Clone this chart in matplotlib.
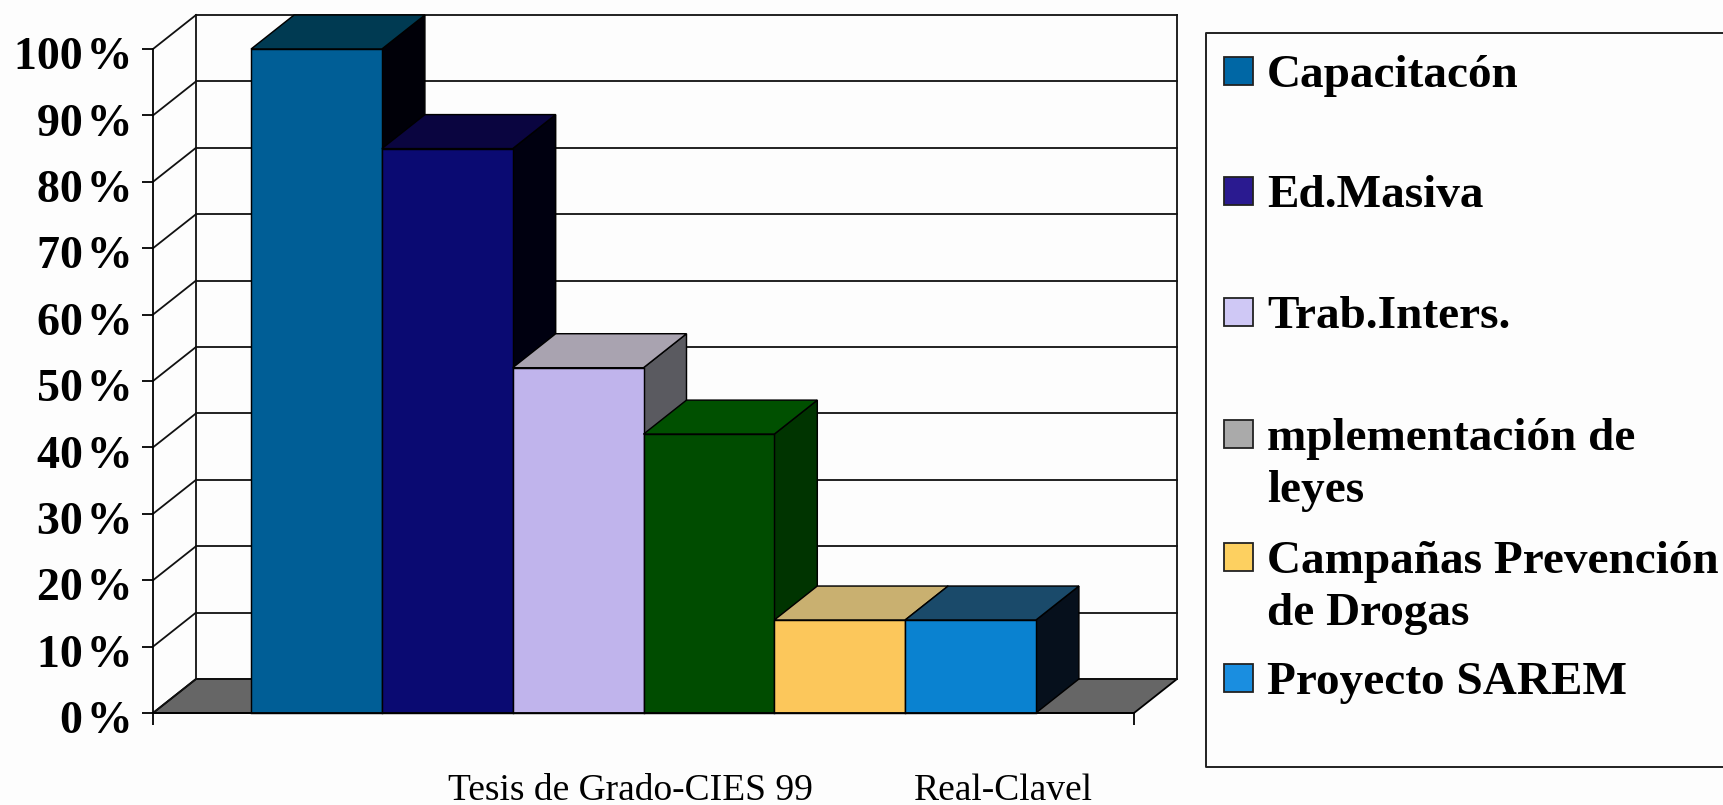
import matplotlib
matplotlib.use('Agg')
import matplotlib.pyplot as plt
from matplotlib.patches import Polygon, Rectangle
from matplotlib.transforms import ScaledTranslation

plt.rcParams['font.family'] = ['Liberation Serif', 'DejaVu Serif']

# Datos
series = ['Capacitacón', 'Ed.Masiva', 'Trab.Inters.', 'Implementación', 'Campañas', 'Proyecto SAREM']
valores = [100, 85, 52, 42, 14, 14]
ticks_y = [0, 10, 20, 30, 40, 50, 60, 70, 80, 90, 100]
etiquetas_y = ['0\u200a%', '10\u200a%', '20\u200a%', '30\u200a%', '40\u200a%', '50\u200a%',
               '60\u200a%', '70\u200a%', '80\u200a%', '90\u200a%', '100\u200a%']

color_frente = ['#005e96', '#0a0a72', '#c0b4ec', '#004c00', '#fcc75b', '#0a82d0']
color_arriba = ['#003a52', '#0a0540', '#a9a3b0', '#005000', '#c9b070', '#1a4a6a']
color_lado = ['#000008', '#000010', '#5a5a60', '#003400', '#101010', '#06101c']
color_leyenda = ['#0067a5', '#2a1a90', '#cfc8f5', '#aaaaaa', '#fdd060', '#1a8ee0']

ANCHO, ALTO = 1724, 805
fig = plt.figure(figsize=(ANCHO / 100, ALTO / 100), dpi=100, facecolor='#fdfdfd')

# plano frontal del grafico, en pixeles
x0, x1, y0, y1 = 153, 1134, 713, 49
ax = fig.add_axes([x0 / ANCHO, 1 - y0 / ALTO, (x1 - x0) / ANCHO, (y0 - y1) / ALTO])
ax.set_xlim(0, 1)
ax.set_ylim(0, 100)
ax.patch.set_alpha(0)

# desplazamiento de profundidad en unidades de datos
dx = 43 / (x1 - x0)
dy = 34 / (y0 - y1) * 100
lw = 1.3

# piso
ax.add_patch(Polygon([(0, 0), (dx, dy), (1 + dx, dy), (1, 0)], closed=True, facecolor='#666666',
                     edgecolor='black', lw=lw, clip_on=False, zorder=1))
# paredes y lineas de la grilla
for t in ticks_y:
    ax.plot([dx, 1 + dx], [t + dy, t + dy], color='#111111', lw=lw, clip_on=False, zorder=1)
    ax.plot([0, dx], [t, t + dy], color='#111111', lw=lw, clip_on=False, zorder=1)
ax.plot([dx, dx], [dy, 100 + dy], color='#111111', lw=lw, clip_on=False, zorder=1)
ax.plot([1 + dx, 1 + dx], [dy, 100 + dy], color='#111111', lw=lw, clip_on=False, zorder=1)

# barras de izquierda a derecha
ancho_barra = 0.8 / len(valores)
for i in range(len(valores)):
    izq = 0.1 + i * ancho_barra
    der = izq + ancho_barra
    v = valores[i]
    z = 3 + i
    ax.add_patch(Polygon([(der, 0), (der + dx, dy), (der + dx, v + dy), (der, v)], closed=True,
                         facecolor=color_lado[i], edgecolor='black', lw=lw * 0.8, clip_on=False, zorder=z))
    ax.add_patch(Polygon([(izq, v), (izq + dx, v + dy), (der + dx, v + dy), (der, v)], closed=True,
                         facecolor=color_arriba[i], edgecolor='black', lw=lw * 0.8, clip_on=False, zorder=z))
    ax.bar(izq, v, width=ancho_barra, align='edge', color=color_frente[i], edgecolor='black',
           lw=lw * 0.8, clip_on=False, zorder=z)

for lado in ['top', 'right']:
    ax.spines[lado].set_visible(False)
ax.spines['left'].set_bounds(0, 100)
for lado in ['left', 'bottom']:
    ax.spines[lado].set_linewidth(lw)
    ax.spines[lado].set_zorder(10)
ax.set_yticks(ticks_y)
ax.set_yticklabels(etiquetas_y, fontsize=33, fontweight='bold')
ax.tick_params(axis='y', length=8, width=lw, pad=7)
# las etiquetas quedan un poco mas abajo que la marca
baja = ScaledTranslation(0, -3 / 72, fig.dpi_scale_trans)
for etiqueta in ax.get_yticklabels():
    etiqueta.set_transform(etiqueta.get_transform() + baja)
ax.set_xticks([0, 1])
ax.set_xticklabels(['', ''])
ax.tick_params(axis='x', length=8.5, width=lw, direction='out')

# capa en pixeles para leyenda y textos sueltos
capa = fig.add_axes([0, 0, 1, 1])
capa.set_xlim(0, ANCHO)
capa.set_ylim(ALTO, 0)
capa.axis('off')
capa.patch.set_alpha(0)

capa.text(448, 800, 'Tesis de Grado-CIES 99', fontsize=27, va='baseline')
capa.text(914, 800, 'Real-Clavel', fontsize=27, va='baseline')

# leyenda
capa.plot([ANCHO, 1206, 1206, ANCHO], [33, 33, 767, 767], color='#222222', lw=1.4, clip_on=False)
leyenda_y = [87, 207, 328, 450, 573, 694]
leyenda_txt = [['Capacitacón'], ['Ed.Masiva'], ['Trab.Inters.'], ['mplementación de', 'leyes'],
               ['Campañas Prevención', 'de Drogas'], ['Proyecto SAREM']]
for i in range(6):
    capa.add_patch(Rectangle((1224, leyenda_y[i] - 30), 29, 28, facecolor=color_leyenda[i],
                             edgecolor='#222222', lw=1.3))
    for j, linea in enumerate(leyenda_txt[i]):
        capa.text(1267, leyenda_y[i] + j * 52, linea, fontsize=34, fontweight='bold', va='baseline')

fig.savefig('out.png', dpi=100, facecolor=fig.get_facecolor())
